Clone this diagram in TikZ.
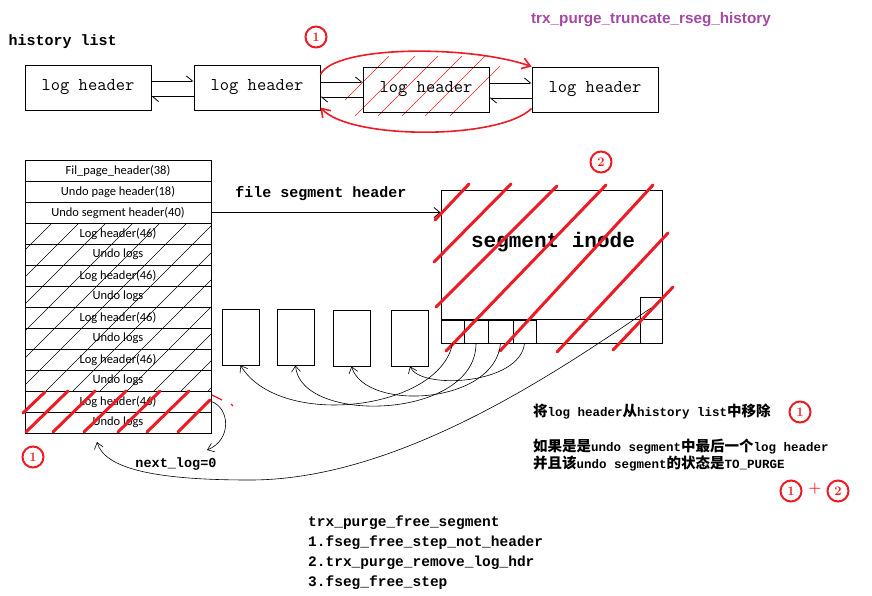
\documentclass[tikz,border=0pt]{standalone}
\usepackage{fontspec}
\setmonofont{Liberation Mono}
\newfontfamily\cjk{Noto Sans CJK SC}
\newfontfamily\calib{Carlito}
\newfontfamily\yahei{Liberation Sans}
\newfontfamily\serifmono{Latin Modern Mono}
\usetikzlibrary{arrows.meta,calc}
\definecolor{pred}{RGB}{237,28,36}
\definecolor{ppurple}{RGB}{163,73,164}
\newcommand{\zhtxt}[1]{{\cjk\bfseries\fontsize{14.5}{16}\selectfont #1}}

\begin{document}
\begin{tikzpicture}[x=1pt,y=-1pt,
  hbox/.style={draw,line width=0.9pt,minimum width=126pt,minimum height=45pt,inner sep=0pt,
    font=\serifmono\fontsize{18}{20}\selectfont},
  cellrow/.style={draw,line width=0.8pt,minimum width=186pt,minimum height=21pt,inner sep=0pt,
    font=\calib\fontsize{12.5}{14}\selectfont},
  plainbox/.style={draw,line width=0.8pt,inner sep=0pt},
  num/.style={circle,draw=pred,line width=2pt,minimum size=21pt,inner sep=0pt,text=pred,
    font=\bfseries\fontsize{13}{14}\selectfont},
  mono/.style={font=\ttfamily\bfseries\fontsize{15}{17}\selectfont},
  half/.style={-{Straight Barb[left,length=6pt,width=10pt]},line width=0.8pt},
  fullarr/.style={-{Straight Barb[length=6pt,width=10pt]},line width=0.8pt},
  thinarr/.style={-{Straight Barb[length=6pt,width=9pt]},line width=0.6pt},
  redpen/.style={pred,line width=1.6pt,-{Straight Barb[length=8pt,width=11pt]}},
  redhatch/.style={pred,line width=3pt,line cap=round}
]
  \useasboundingbox (0,0) rectangle (872,595);

  % history list
  \node[mono,anchor=west] (histlbl) at (5,42) {history list};
  \node[font=\yahei\bfseries\fontsize{15.3}{17}\selectfont,text=ppurple] (title) at (651,20) {trx\_purge\_truncate\_rseg\_history};

  % thin red hatch of the removed header
  \begin{scope}
    \clip (345,56) rectangle (500,116);
    \foreach \x in {329,355,378,402,425,450}
      \draw[pred,line width=0.5pt] (\x,116) -- ++(60,-60);
  \end{scope}

  \node[hbox] (b1) at (88,87.5) {log header};
  \node[hbox] (b2) at (257,87.5) {log header};
  \node[hbox] (b3) at (426,89.5) {log header};
  \node[hbox] (b4) at (595,89.5) {log header};

  \draw[half] ([yshift=6.5pt]b1.east) -- ([yshift=6.5pt]b1.east -| b2.west);
  \draw[half] ([yshift=-9pt]b2.west) -- ([yshift=-9pt]b2.west -| b1.east);
  \draw[half] ([yshift=5.5pt]b2.east) -- ([yshift=5.5pt]b2.east -| b3.west);
  \draw[half] ([yshift=-7.5pt]b3.west) -- ([yshift=-7.5pt]b3.west -| b2.east);
  \draw[half] ([yshift=6.5pt]b3.east) -- ([yshift=6.5pt]b3.east -| b4.west);
  \draw[half] ([yshift=-8.5pt]b4.west) -- ([yshift=-8.5pt]b4.west -| b3.east);

  % red loop round it
  \draw[redpen] ($(b2.north east)+(0,10)$) .. controls (335,45) and (470,45) .. (b4.north west);
  \draw[redpen] ($(b4.south west)+(0,-4)$) .. controls (500,140) and (350,140) .. ($(b2.south east)+(0,-3)$);
  \node[num] (n1top) at (316,37) {1};

  % undo page
  \begin{scope}
    \clip (25,223) rectangle (211,391);
    \foreach \x in {-143,-116,...,211}
      \draw[line width=0.5pt] (\x,391) -- ++(168,-168);
  \end{scope}
  \foreach \i/\t in {1/Fil\_page\_header(38),2/Undo page header(18),3/Undo segment header(40),
      4/Log header(46),5/Undo logs,6/Log header(46),7/Undo logs,8/Log header(46),9/Undo logs,
      10/Log header(46),11/Undo logs,12/Log header(46),13/Undo logs}
    \node[cellrow] (p\i) at (118,149.5+21*\i) {\t};
  \foreach \x/\y/\dx/\dy in {23/413/22/-21,26/432/42/-41,53/432/42/-41,84/432/42/-41,
      118/432/42/-41,147/432/42/-41,178/432/32/-32}
    \draw[redhatch] (\x,\y) -- ++(\dx,\dy);
  \node[num] (n1page) at (33,457) {1};
  \draw[pred,line width=1.2pt] (212,395) -- (222,400);
  \draw[pred,line width=1.2pt] (231,404) -- (233,406);

  % segment inode
  \node[mono] (fshlbl) at (321,194) {file segment header};
  \node[plainbox,minimum width=221pt,minimum height=153pt] (inode) at (551.5,266.5) {};
  \node[font=\ttfamily\bfseries\fontsize{21}{24}\selectfont] (inodelbl) at (553,242) {segment inode};
  \node[plainbox,minimum width=23pt,minimum height=23pt] (c1) at (452.5,331.5) {};
  \node[plainbox,minimum width=24pt,minimum height=23pt] (c2) at (476,331.5) {};
  \node[plainbox,minimum width=25pt,minimum height=23pt] (c3) at (500.5,331.5) {};
  \node[plainbox,minimum width=23pt,minimum height=23pt] (c4) at (524.5,331.5) {};
  \node[plainbox,minimum width=22pt,minimum height=46pt] (tail) at (651,320) {};
  \draw[line width=0.8pt] (c1.north west) -- (c1.north west -| inode.east);
  \draw[fullarr] (p3.east) -- (p3.east -| inode.west);
  \foreach \xa/\ya/\xb/\yb in {435/220/469/184,434/262/511/184,436/307/557/186,446/351/606/185,
      500/351/653/185,557/352/668/233,613/350/673/287}
    \draw[redhatch] (\xa,\ya) -- (\xb,\yb);
  \node[num] (n2inode) at (601,162) {2};

  % free pages
  \node[plainbox,minimum width=37pt,minimum height=56pt] (s1) at (240.5,337) {};
  \node[plainbox,minimum width=37pt,minimum height=56pt] (s2) at (295.5,337) {};
  \node[plainbox,minimum width=37pt,minimum height=56pt] (s3) at (351.5,338) {};
  \node[plainbox,minimum width=37pt,minimum height=56pt] (s4) at (410,338) {};
  \draw[thinarr] (c1.south) .. controls (440,410) and (280,430) .. (s1.south);
  \draw[thinarr] (c2.south) .. controls (476,420) and (300,425) .. (s2.south);
  \draw[thinarr] (c3.south) .. controls (495,405) and (365,412) .. (s3.south);
  \draw[thinarr] (c4.south) .. controls (520,385) and (420,390) .. (s4.south);

  % next_log
  \coordinate (nlend) at (97,442);
  \coordinate (nlstub) at (207,450);
  \draw[thinarr] ([yshift=12pt]tail.center) .. controls (560,370) and (400,480) .. (250,480)
    .. controls (160,480) and (105,470) .. (nlend);
  \draw[thinarr] (p12.east) .. controls (230,408) and (232,440) .. (nlstub);
  \node[font=\ttfamily\bfseries\fontsize{13.5}{15}\selectfont] (nextlog) at (176,464) {next\_log=0};

  % notes
  \node[font=\ttfamily\bfseries\fontsize{12.5}{15}\selectfont,anchor=west,inner sep=0pt] (note1) at (533,412)
    {\zhtxt{将}log header\zhtxt{从}history list\zhtxt{中移除}};
  \node[num] (n1note) at (800,412) {1};
  \node[font=\ttfamily\bfseries\fontsize{12.5}{16.5}\selectfont,anchor=west,align=left,inner sep=0pt] (note2) at (533,455)
    {\zhtxt{如果是是}undo segment\zhtxt{中最后一个}log header\\
     \zhtxt{并且该}undo segment\zhtxt{的状态是}TO\_PURGE};
  \node[num] (n1sum) at (791,491) {1};
  \node[text=pred,font=\bfseries\fontsize{15}{16}\selectfont] (plus) at (815,489) {+};
  \node[num] (n2sum) at (838,491) {2};

  \node[font=\ttfamily\bfseries\fontsize{14.5}{20}\selectfont,anchor=north west,align=left,inner sep=0pt] (freeseg) at (308,516)
    {trx\_purge\_free\_segment\\
     1.fseg\_free\_step\_not\_header\\
     2.trx\_purge\_remove\_log\_hdr\\
     3.fseg\_free\_step};
\end{tikzpicture}
\end{document}
